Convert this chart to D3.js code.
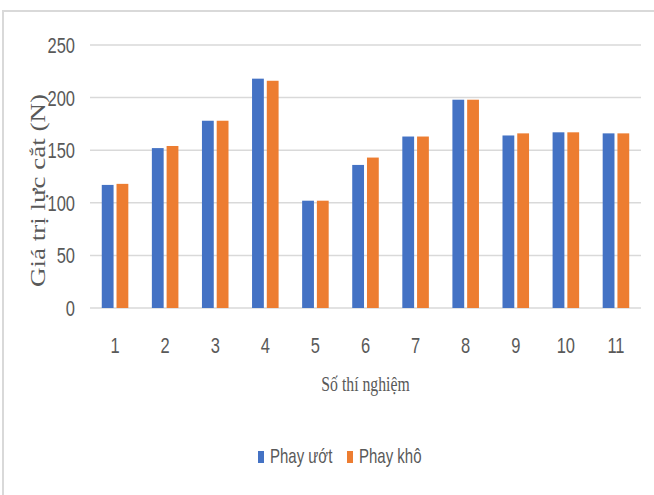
<!DOCTYPE html>
<html><head><meta charset="utf-8">
<script src="https://cdn.jsdelivr.net/npm/d3@7"></script>
<style>body{margin:0;background:#fff}svg{display:block}</style>
</head><body>
<svg id="c" width="654" height="495"></svg>
<script>
const categories = ["1","2","3","4","5","6","7","8","9","10","11"];
const seriesNames = ["Phay ướt","Phay khô"];
const phayUot = [117,152,178,218,102,136,163,198,164,167,166];
const phayKho = [118,154,178,216,102,143,163,198,166,167,166];
const yTicks = [0,50,100,150,200,250];
const colors = ["#4472C4","#ED7D31"];
const values = [phayUot, phayKho];

const svg = d3.select("#c");
const SX = 0.75;
// frame
svg.append("path").attr("d","M3,495V11H654").attr("fill","none").attr("stroke","#d9d9d9").attr("stroke-width",2);

const x = d3.scaleBand().domain(categories).range([90,641]).paddingInner(0.47).paddingOuter(0.235);
const x1 = d3.scaleBand().domain(seriesNames).range([0,x.bandwidth()]).paddingInner(0.2);
const y = d3.scaleLinear().domain([0,250]).range([308,45]);

// gridlines
svg.append("g").selectAll("line").data(yTicks).join("line")
  .attr("x1",90).attr("x2",641).attr("y1",d=>y(d)).attr("y2",d=>y(d))
  .attr("stroke","#d9d9d9").attr("stroke-width",1.5);

// y tick labels
svg.append("g").selectAll("text").data(yTicks).join("text")
  .attr("transform",d=>`translate(75,${y(d)}) scale(${SX},1)`)
  .attr("text-anchor","end").attr("dy","0.36em")
  .attr("font-family","Liberation Sans, Arial, sans-serif").attr("font-size",22).attr("fill","#595959")
  .text(d=>d);

// bars
const g = svg.append("g");
categories.forEach((c,i)=>{
  seriesNames.forEach((s,j)=>{
    g.append("rect").attr("x",x(c)+x1(s)).attr("width",x1.bandwidth())
      .attr("y",y(values[j][i])).attr("height",y(0)-y(values[j][i]))
      .attr("fill",colors[j]);
  });
});

// x tick labels
svg.append("g").selectAll("text").data(categories).join("text")
  .attr("transform",d=>`translate(${x(d)+x.bandwidth()/2},353) scale(${SX},1)`)
  .attr("text-anchor","middle")
  .attr("font-family","Liberation Sans, Arial, sans-serif").attr("font-size",22).attr("fill","#595959")
  .text(d=>d);

// x title
svg.append("text").attr("transform",`translate(365.5,391) scale(${SX},1)`)
  .attr("text-anchor","middle").attr("font-family","Liberation Serif, Times New Roman, serif")
  .attr("font-size",21).attr("fill","#595959").text("Số thí nghiệm");

// y title
svg.append("text").attr("transform",`translate(38,190.5) rotate(-90) scale(1,${SX})`)
  .attr("text-anchor","middle").attr("dy","0.35em").attr("font-family","Liberation Serif, Times New Roman, serif")
  .attr("font-size",27).attr("fill","#595959").text("Giá trị lực cắt (N)");

// legend
const legX = [258,347];
const leg = svg.append("g");
seriesNames.forEach((s,j)=>{
  leg.append("rect").attr("x",legX[j]).attr("y",451).attr("width",6).attr("height",12).attr("fill",colors[j]);
  leg.append("text").attr("transform",`translate(${legX[j]+12},463) scale(${SX},1)`)
    .attr("font-family","Liberation Sans, Arial, sans-serif").attr("font-size",20).attr("fill","#595959").text(s);
});
</script>
</body></html>
